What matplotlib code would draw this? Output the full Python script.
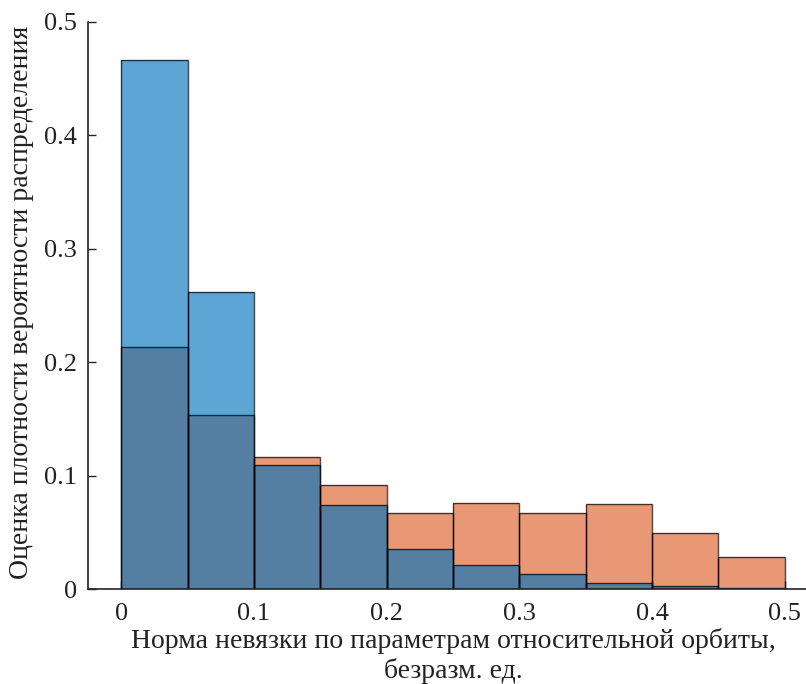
import matplotlib
matplotlib.use("Agg")
import matplotlib.pyplot as plt
import numpy as np

bin_edges = [0.0, 0.05, 0.10, 0.15, 0.20, 0.25, 0.30, 0.35, 0.40, 0.45, 0.50]
blue_vals = [0.4665, 0.262, 0.109, 0.074, 0.035, 0.021, 0.013, 0.005, 0.0026, 0.0005]
orange_vals = [0.2134, 0.153, 0.116, 0.0917, 0.067, 0.0758, 0.067, 0.075, 0.049, 0.028]
xticks = [0, 0.1, 0.2, 0.3, 0.4, 0.5]
xticklabels = ["0", "0.1", "0.2", "0.3", "0.4", "0.5"]
yticks = [0, 0.1, 0.2, 0.3, 0.4, 0.5]
yticklabels = ["0", "0.1", "0.2", "0.3", "0.4", "0.5"]
xlabel = "Норма невязки по параметрам относительной орбиты,\nбезразм. ед."
ylabel = "Оценка плотности вероятности распределения"

plt.rcParams['font.family'] = ['Liberation Serif', 'DejaVu Serif']

fig = plt.figure(figsize=(8.06, 6.84), dpi=100)
ax = fig.add_axes([88/806, 1-589/684, 730/806, (589-22)/684])

lefts = np.array(bin_edges[:-1])
widths = np.diff(bin_edges)
orange = (0.85, 0.325, 0.098)
blue = (0.0, 0.447, 0.741)
ax.bar(lefts, orange_vals, width=widths, align='edge', color=orange, alpha=0.6,
       edgecolor='none', zorder=2)
ax.bar(lefts, orange_vals, width=widths, align='edge', fill=False,
       edgecolor=(0, 0, 0, 0.7), linewidth=1.0, zorder=4)
ax.bar(lefts, blue_vals, width=widths, align='edge', color=blue, alpha=0.64,
       edgecolor='none', zorder=3)
ax.bar(lefts, blue_vals, width=widths, align='edge', fill=False,
       edgecolor=(0, 0, 0, 0.7), linewidth=1.0, zorder=4)

ax.set_xlim(-0.025, 0.525)
ax.set_ylim(0, 0.5)
ax.set_xticks(xticks)
ax.set_xticklabels(xticklabels)
ax.set_yticks(yticks)
ax.set_yticklabels(yticklabels)
ax.tick_params(direction='in', length=6, width=1.0, labelsize=19, colors='#222222')
ax.tick_params(axis='x', pad=10)
ax.tick_params(axis='y', pad=8)
for s in ['top', 'right']:
    ax.spines[s].set_visible(False)
for s in ['left', 'bottom']:
    ax.spines[s].set_linewidth(1.2)
    ax.spines[s].set_color('#222222')
    ax.spines[s].set_zorder(5)

fig.text(453/806, 1-656/684, xlabel, ha='center', va='center', fontsize=20,
         color='#222222', linespacing=1.15)
fig.text(22/806, 1-302/684, ylabel, ha='center', va='center', rotation=90,
         fontsize=20, color='#222222')

fig.savefig("out.png", dpi=100)
